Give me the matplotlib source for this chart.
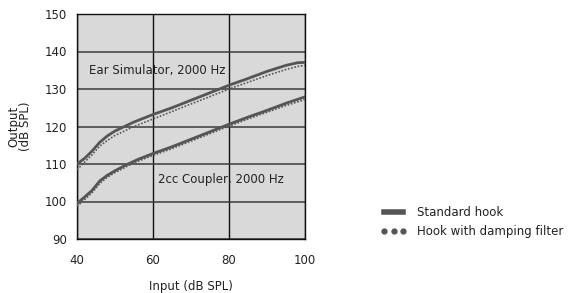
import matplotlib.pyplot as plt
from matplotlib.lines import Line2D

plt.rcParams['font.family'] = ['DejaVu Sans']

# Ear simulator, 2000 Hz
ear_x = [40, 42, 44, 46, 48, 50, 55, 60, 65, 70, 75, 80, 85, 90, 95, 98, 100]
ear_std = [110, 111.5, 113.5, 115.8, 117.5, 118.8, 121.2, 123.2, 125, 127, 129, 131, 132.8, 134.7, 136.3, 137, 137.1]
ear_damp = [108.5, 110.5, 112.5, 114.8, 116.3, 117.6, 120, 122, 124, 126, 128, 130, 131.8, 133.6, 135.2, 136, 136.3]

# 2cc coupler, 2000 Hz
cc_x = [40, 42, 44, 46, 48, 50, 53, 56, 60, 65, 70, 75, 80, 85, 90, 95, 100]
cc_std = [99.5, 101.2, 103, 105.5, 107, 108.2, 109.8, 111.2, 112.8, 114.6, 116.6, 118.6, 120.6, 122.5, 124.3, 126.2, 127.9]
cc_damp = [98.7, 100.5, 102.4, 104.8, 106.5, 107.7, 109.3, 110.7, 112.3, 114.1, 116.1, 118.1, 120.1, 122, 123.8, 125.6, 127.2]

xticks = [40, 60, 80, 100]
yticks = [90, 100, 110, 120, 130, 140, 150]

fig = plt.figure(figsize=(5.69, 2.93), dpi=100)
ax = fig.add_axes([77/569, 1 - 239/293, 228/569, 225/293])
ax.set_facecolor('#d9d9d9')

line_col = '#555555'
txt_col = '#222222'
ax.plot(ear_x, ear_std, color=line_col, lw=2.0, zorder=3)
ax.plot(ear_x, ear_damp, color=line_col, lw=1.2, ls=(0, (1, 1)), zorder=3)
ax.plot(cc_x, cc_std, color=line_col, lw=2.0, zorder=3)
ax.plot(cc_x, cc_damp, color=line_col, lw=1.2, ls=(0, (1, 1)), zorder=3)

ax.set_xlim(40, 100)
ax.set_ylim(90, 150)
ax.set_xticks(xticks)
ax.set_yticks(yticks)
ax.xaxis.grid(True, color='#111111', lw=1.0)
ax.yaxis.grid(True, color='#3a3a3a', lw=1.1)
ax.set_axisbelow(True)
for s in ax.spines.values():
    s.set_color('#111111')
    s.set_linewidth(1.0)
ax.tick_params(length=0, labelsize=8.5, colors=txt_col)
ax.tick_params(axis='y', pad=7)
ax.tick_params(axis='x', pad=11)

ax.text(43.2, 135, 'Ear Simulator, 2000 Hz', fontsize=8.5, color=txt_col, va='center', zorder=4)
ax.text(61.2, 106, '2cc Coupler, 2000 Hz', fontsize=8.5, color=txt_col, va='center', zorder=4)

ax.set_xlabel('Input (dB SPL)', fontsize=8.5, color=txt_col, labelpad=9)
ax.set_ylabel('Output\n(dB SPL)', fontsize=8.5, color=txt_col, labelpad=9, linespacing=0.95)

handles = [Line2D([], [], color=line_col, lw=4),
           Line2D([], [], color=line_col, lw=0, marker='o', markersize=3.5)]
fig.legend(handles, ['Standard hook', 'Hook with damping filter'],
           loc='center left', bbox_to_anchor=(370/569, 1 - 222/293),
           frameon=False, fontsize=8.5, handlelength=2.2, numpoints=3,
           labelspacing=0.55, handletextpad=0.9, labelcolor=txt_col)

fig.savefig('out.png', dpi=100)
